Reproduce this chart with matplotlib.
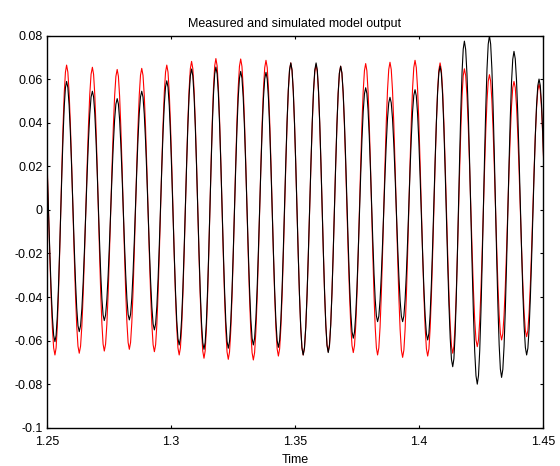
import numpy as np
import matplotlib
matplotlib.use("Agg")
import matplotlib.pyplot as plt

# ---- data (extrema of each oscillation) ----
peak_times = [1.2480, 1.2579, 1.2683, 1.2783, 1.2882, 1.2983, 1.3083, 1.3181, 1.3281, 1.3383,
              1.3483, 1.3585, 1.3684, 1.3785, 1.3883, 1.3984, 1.4085, 1.4183, 1.4284, 1.4383, 1.4484]
trough_times = [1.2532, 1.2630, 1.2731, 1.2832, 1.2933, 1.3033, 1.3133, 1.3231, 1.3332, 1.3433,
                1.3533, 1.3634, 1.3735, 1.3833, 1.3934, 1.4035, 1.4136, 1.4235, 1.4333, 1.4434, 1.4534]

simulated_peaks = [0.0665, 0.0665, 0.0655, 0.0645, 0.0650, 0.0665, 0.0682, 0.0695, 0.0693, 0.0687,
                   0.0675, 0.0667, 0.0660, 0.0672, 0.0678, 0.0687, 0.0675, 0.0648, 0.0621, 0.0590, 0.0578]
simulated_troughs = [-0.0666, -0.0658, -0.0648, -0.0640, -0.0651, -0.0666, -0.0681, -0.0686, -0.0689,
                     -0.0671, -0.0666, -0.0651, -0.0655, -0.0666, -0.0677, -0.0671, -0.0658, -0.0628,
                     -0.0597, -0.0582, -0.0580]

measured_peaks = [0.0600, 0.0590, 0.0545, 0.0511, 0.0545, 0.0593, 0.0647, 0.0656, 0.0636, 0.0632,
                  0.0675, 0.0675, 0.0660, 0.0561, 0.0517, 0.0552, 0.0660, 0.0775, 0.0800, 0.0728, 0.0601]
measured_troughs = [-0.0605, -0.0559, -0.0508, -0.0505, -0.0551, -0.0620, -0.0640, -0.0635, -0.0620,
                    -0.0631, -0.0666, -0.0655, -0.0589, -0.0513, -0.0513, -0.0597, -0.0720, -0.0800,
                    -0.0769, -0.0666, -0.0600]

xticks = [1.25, 1.3, 1.35, 1.4, 1.45]
xticklabels = ["1.25", "1.3", "1.35", "1.4", "1.45"]
yticks = [-0.1, -0.08, -0.06, -0.04, -0.02, 0, 0.02, 0.04, 0.06, 0.08]
yticklabels = ["-0.1", "-0.08", "-0.06", "-0.04", "-0.02", "0", "0.02", "0.04", "0.06", "0.08"]


def waveform(pt, pv, tt, tv, n=10):
    """Join alternating extrema with half-cosine segments."""
    et = np.array(list(pt) + list(tt))
    ev = np.array(list(pv) + list(tv))
    order = np.argsort(et)
    et, ev = et[order], ev[order]
    xs, ys = [], []
    for i in range(len(et) - 1):
        s = np.linspace(0, 1, n, endpoint=False)
        xs.append(et[i] + (et[i + 1] - et[i]) * s)
        ys.append((ev[i] + ev[i + 1]) / 2 + (ev[i] - ev[i + 1]) / 2 * np.cos(np.pi * s))
    xs.append([et[-1]])
    ys.append([ev[-1]])
    return np.concatenate(xs), np.concatenate(ys)


plt.rcParams['font.family'] = ['Liberation Sans', 'DejaVu Sans']
plt.rcParams['font.size'] = 9

fig = plt.figure(figsize=(5.6, 4.66), dpi=100)
ax = fig.add_axes([47 / 560, 1 - 427.7 / 466, 496 / 560, 392 / 466])

xs, ys = waveform(peak_times, simulated_peaks, trough_times, simulated_troughs)
ax.plot(xs, ys, color='red', lw=0.8)
xm, ym = waveform(peak_times, measured_peaks, trough_times, measured_troughs)
ax.plot(xm, ym, color='black', lw=0.8)

ax.set_xlim(1.25, 1.45)
ax.set_ylim(-0.1, 0.08)
ax.set_xticks(xticks)
ax.set_xticklabels(xticklabels)
ax.set_yticks(yticks)
ax.set_yticklabels(yticklabels)
ax.tick_params(direction='in', length=2.5, width=0.8, top=True, right=True, labelsize=9)
ax.tick_params(axis='y', pad=3)
ax.tick_params(axis='x', pad=6)
for sp in ax.spines.values():
    sp.set_linewidth(1.0)
ax.set_title("Measured and simulated model output", fontsize=9, pad=6.5)
ax.set_xlabel("Time", fontsize=9, labelpad=4)

fig.savefig("out.png", dpi=100)
